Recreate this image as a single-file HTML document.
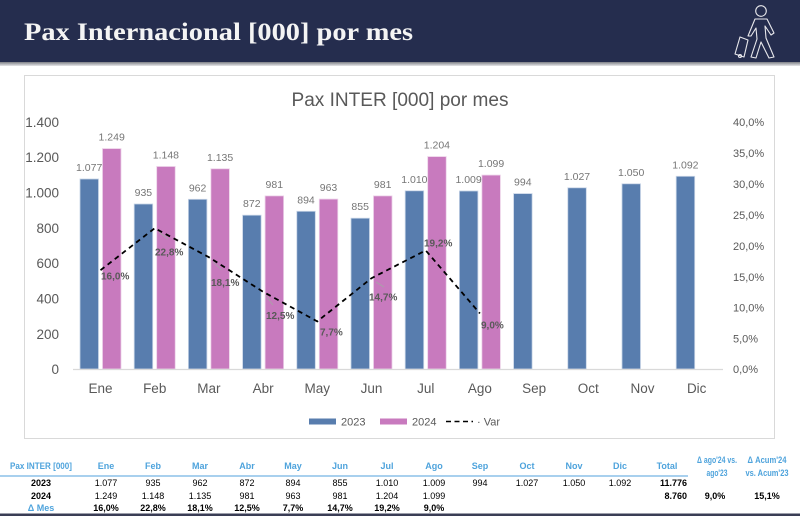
<!DOCTYPE html>
<html><head><meta charset="utf-8"><style>
html,body{margin:0;padding:0;background:#fff;width:800px;height:520px;overflow:hidden}
svg{display:block}
</style></head><body>
<svg width="800" height="520" viewBox="0 0 800 520" xmlns="http://www.w3.org/2000/svg" font-family="Liberation Sans, sans-serif">
<defs>
<linearGradient id="sh" x1="0" y1="0" x2="0" y2="1"><stop offset="0" stop-color="#7d7f86"/><stop offset="1" stop-color="#e6e6e8"/></linearGradient>
</defs>
<!-- header -->
<rect x="0" y="0" width="800" height="62" fill="#252d4e"/>
<rect x="0" y="62" width="800" height="4" fill="url(#sh)"/>
<text x="24" y="40" font-family="Liberation Serif, serif" font-weight="bold" font-size="25" fill="#f4f4f4" textLength="389" lengthAdjust="spacingAndGlyphs">Pax Internacional [000] por mes</text>
<!-- icon -->
<g fill="none" stroke="#e8e8ec" stroke-width="1.1" stroke-linejoin="round" stroke-linecap="round">
<circle cx="761" cy="11" r="5.3"/>
<path d="M755 19 L767 19 L774 33 L771 35 L765 26 L766 38 L774 57 L769 58 L761 42 L756 58 L751 57 L757 39 L756 28 L751 36 L748 36 Z"/>
<path d="M740 37 L748 40 L744 57 L735 54 Z"/>
<circle cx="740" cy="56" r="1.5"/>
</g>
<!-- chart box -->
<rect x="24.5" y="75.5" width="750" height="363" fill="#fff" stroke="#d9d9d9" stroke-width="1"/>
<text x="400" y="106" text-anchor="middle" font-size="19" fill="#595959" textLength="217" lengthAdjust="spacingAndGlyphs">Pax INTER [000] por mes</text>
<!-- left axis -->
<g font-size="13.5" fill="#595959" text-anchor="end">
<text x="59" y="127">1.400</text>
<text x="59" y="162">1.200</text>
<text x="59" y="197.5">1.000</text>
<text x="59" y="233">800</text>
<text x="59" y="268">600</text>
<text x="59" y="303.5">400</text>
<text x="59" y="339">200</text>
<text x="59" y="374">0</text>
</g>
<!-- right axis -->
<g font-size="11" fill="#595959">
<text x="733" y="126">40,0%</text>
<text x="733" y="157">35,0%</text>
<text x="733" y="188">30,0%</text>
<text x="733" y="219">25,0%</text>
<text x="733" y="250">20,0%</text>
<text x="733" y="281">15,0%</text>
<text x="733" y="311.5">10,0%</text>
<text x="733" y="342.5">5,0%</text>
<text x="733" y="373">0,0%</text>
</g>
<!-- bars 2023 -->
<g fill="#587dae" stroke="#c7d4e6" stroke-width="0.8">
<rect x="80" y="179" width="18.5" height="190"/>
<rect x="134.2" y="204" width="18.5" height="165"/>
<rect x="188.4" y="199.3" width="18.5" height="169.7"/>
<rect x="242.6" y="215.2" width="18.5" height="153.8"/>
<rect x="296.8" y="211.3" width="18.5" height="157.7"/>
<rect x="351" y="218.2" width="18.5" height="150.8"/>
<rect x="405.2" y="190.8" width="18.5" height="178.2"/>
<rect x="459.4" y="191" width="18.5" height="178"/>
<rect x="513.6" y="193.6" width="18.5" height="175.4"/>
<rect x="567.8" y="187.8" width="18.5" height="181.2"/>
<rect x="622" y="183.8" width="18.5" height="185.2"/>
<rect x="676.2" y="176.3" width="18.5" height="192.7"/>
</g>
<!-- bars 2024 -->
<g fill="#c87abe" stroke="#ecd0e8" stroke-width="0.8">
<rect x="102.5" y="148.6" width="18.5" height="220.4"/>
<rect x="156.7" y="166.5" width="18.5" height="202.5"/>
<rect x="210.9" y="168.8" width="18.5" height="200.2"/>
<rect x="265.1" y="195.9" width="18.5" height="173.1"/>
<rect x="319.3" y="199.1" width="18.5" height="169.9"/>
<rect x="373.5" y="195.9" width="18.5" height="173.1"/>
<rect x="427.7" y="156.6" width="18.5" height="212.4"/>
<rect x="481.9" y="175.1" width="18.5" height="193.9"/>
</g>
<!-- axis line -->
<line x1="73" y1="369.5" x2="723" y2="369.5" stroke="#d9d9d9" stroke-width="1.2"/>
<!-- data labels -->
<g font-size="10.5" fill="#767676" text-anchor="middle">
<text x="89.2" y="171">1.077</text>
<text x="143.4" y="196">935</text>
<text x="197.6" y="191.3">962</text>
<text x="251.8" y="207.2">872</text>
<text x="306" y="203.3">894</text>
<text x="360.2" y="210.2">855</text>
<text x="414.4" y="182.8">1.010</text>
<text x="468.6" y="183">1.009</text>
<text x="522.8" y="185.6">994</text>
<text x="577" y="179.8">1.027</text>
<text x="631.2" y="175.8">1.050</text>
<text x="685.4" y="168.3">1.092</text>
<text x="111.7" y="140.6">1.249</text>
<text x="165.9" y="158.5">1.148</text>
<text x="220.1" y="160.8">1.135</text>
<text x="274.3" y="187.9">981</text>
<text x="328.5" y="191.1">963</text>
<text x="382.7" y="187.9">981</text>
<text x="436.9" y="148.6">1.204</text>
<text x="491.1" y="167.1">1.099</text>
</g>
<!-- var line -->
<polyline points="100.5,270.2 154.7,228.2 208.9,257.2 263.1,291.8 317.3,321.4 371.5,278.2 425.7,250.4 479.9,313.4" fill="none" stroke="#000" stroke-width="1.8" stroke-dasharray="5,4"/>
<g stroke="#a6a6a6" stroke-width="0.8">
<line x1="159" y1="232" x2="168" y2="239"/>
<line x1="213" y1="262" x2="222" y2="270"/>
<line x1="266" y1="296" x2="273" y2="305"/>
<line x1="376" y1="282" x2="384" y2="287"/>
</g>
<g font-size="10" font-weight="bold" fill="#595959">
<text x="101" y="279.5">16,0%</text>
<text x="155" y="255.5">22,8%</text>
<text x="211" y="286">18,1%</text>
<text x="266" y="319">12,5%</text>
<text x="320" y="335.5">7,7%</text>
<text x="369" y="300.5">14,7%</text>
<text x="424" y="246.5">19,2%</text>
<text x="481" y="328.5">9,0%</text>
</g>
<!-- month labels -->
<g font-size="13.5" fill="#595959" text-anchor="middle">
<text x="100.5" y="393">Ene</text>
<text x="154.7" y="393">Feb</text>
<text x="208.9" y="393">Mar</text>
<text x="263.1" y="393">Abr</text>
<text x="317.3" y="393">May</text>
<text x="371.5" y="393">Jun</text>
<text x="425.7" y="393">Jul</text>
<text x="479.9" y="393">Ago</text>
<text x="534.1" y="393">Sep</text>
<text x="588.3" y="393">Oct</text>
<text x="642.5" y="393">Nov</text>
<text x="696.7" y="393">Dic</text>
</g>
<!-- legend -->
<rect x="309" y="418.5" width="27" height="6" fill="#587dae"/>
<text x="341" y="425.5" font-size="11" fill="#595959">2023</text>
<rect x="380" y="418.5" width="27" height="6" fill="#c87abe"/>
<text x="412" y="425.5" font-size="11" fill="#595959">2024</text>
<line x1="446" y1="421.5" x2="473" y2="421.5" stroke="#000" stroke-width="1.6" stroke-dasharray="5,3.5"/>
<text x="477" y="425.5" font-size="11" fill="#595959">· Var</text>
<!-- table -->
<g font-size="9" font-weight="bold" fill="#4ea3dc" text-anchor="middle">
<text x="41" y="469" textLength="62" lengthAdjust="spacingAndGlyphs">Pax INTER [000]</text>
<text x="106" y="469">Ene</text>
<text x="153" y="469">Feb</text>
<text x="200" y="469">Mar</text>
<text x="247" y="469">Abr</text>
<text x="293" y="469">May</text>
<text x="340" y="469">Jun</text>
<text x="387" y="469">Jul</text>
<text x="434" y="469">Ago</text>
<text x="480" y="469">Sep</text>
<text x="527" y="469">Oct</text>
<text x="574" y="469">Nov</text>
<text x="620" y="469">Dic</text>
<text x="667" y="469">Total</text>
<text x="717" y="463" textLength="40" lengthAdjust="spacingAndGlyphs">Δ ago'24 vs.</text>
<text x="717" y="476" textLength="21" lengthAdjust="spacingAndGlyphs">ago'23</text>
<text x="767" y="463" textLength="39" lengthAdjust="spacingAndGlyphs">Δ Acum'24</text>
<text x="767" y="476" textLength="43" lengthAdjust="spacingAndGlyphs">vs. Acum'23</text>
<text x="41" y="511">Δ Mes</text>
</g>
<line x1="0" y1="476" x2="688" y2="476" stroke="#a8d0ee" stroke-width="2"/>
<g font-size="9" font-weight="bold" fill="#000" text-anchor="middle">
<text x="41" y="486">2023</text>
<text x="41" y="499">2024</text>
</g>
<g font-size="9" fill="#000" text-anchor="middle">
<text x="106" y="486">1.077</text>
<text x="153" y="486">935</text>
<text x="200" y="486">962</text>
<text x="247" y="486">872</text>
<text x="293" y="486">894</text>
<text x="340" y="486">855</text>
<text x="387" y="486">1.010</text>
<text x="434" y="486">1.009</text>
<text x="480" y="486">994</text>
<text x="527" y="486">1.027</text>
<text x="574" y="486">1.050</text>
<text x="620" y="486">1.092</text>
<text x="106" y="499">1.249</text>
<text x="153" y="499">1.148</text>
<text x="200" y="499">1.135</text>
<text x="247" y="499">981</text>
<text x="293" y="499">963</text>
<text x="340" y="499">981</text>
<text x="387" y="499">1.204</text>
<text x="434" y="499">1.099</text>
</g>
<g font-size="9" font-weight="bold" fill="#000">
<g text-anchor="end">
<text x="687" y="486">11.776</text>
<text x="687" y="499">8.760</text>
</g>
<g text-anchor="middle">
<text x="715" y="499">9,0%</text>
<text x="767" y="499">15,1%</text>
<text x="106" y="511">16,0%</text>
<text x="153" y="511">22,8%</text>
<text x="200" y="511">18,1%</text>
<text x="247" y="511">12,5%</text>
<text x="293" y="511">7,7%</text>
<text x="340" y="511">14,7%</text>
<text x="387" y="511">19,2%</text>
<text x="434" y="511">9,0%</text>
</g>
</g>
<rect x="0" y="513.5" width="800" height="2.5" fill="#3a3d55"/>
</svg>
</body></html>
